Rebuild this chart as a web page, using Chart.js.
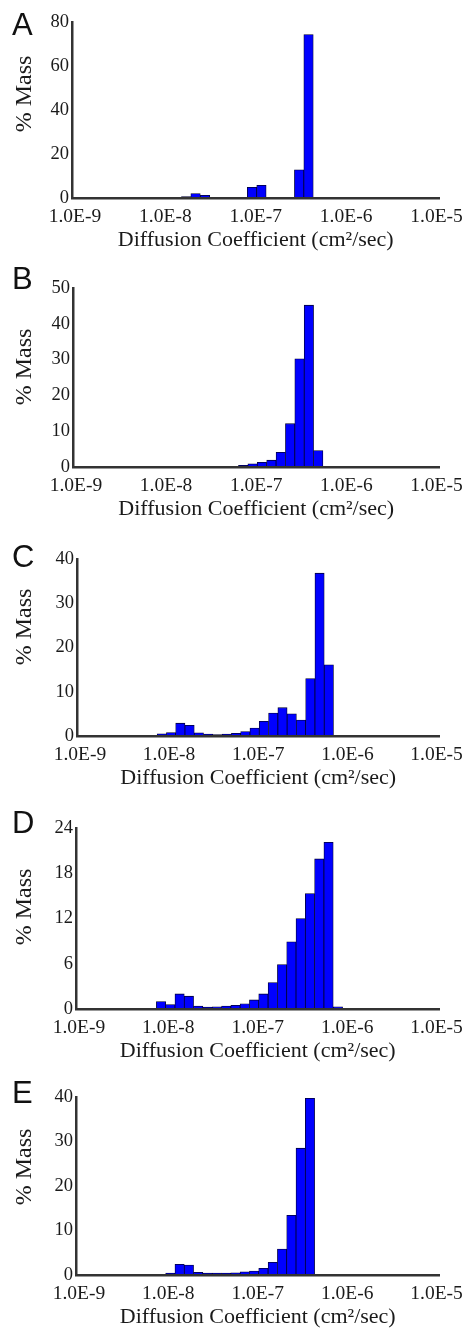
<!DOCTYPE html>
<html>
<head>
<meta charset="utf-8">
<script src="https://cdn.jsdelivr.net/npm/chart.js"></script>
<style>
  html, body { margin: 0; padding: 0; background: #fff; }
  #page { position: relative; width: 470px; height: 1335px; overflow: hidden; }
  #page canvas { position: absolute; left: 0; }
  .letter { position: absolute; left: 12px; font: 31px "Liberation Sans", Arial, sans-serif; line-height: 1; color: #111; }
</style>
</head>
<body>
<div id="page"></div>
<script>
// bin centres, log10 of diffusion coefficient (cm2/sec)
const binExp = [-8.082, -7.978, -7.874, -7.770, -7.666, -7.561, -7.457, -7.353, -7.249, -7.145,
                -7.041, -6.937, -6.832, -6.728, -6.624, -6.520, -6.416, -6.312, -6.208, -6.103];

// % mass in each bin, one list per panel
const massA = [0, 0, 0, 0.6, 2.0, 1.2, 0, 0, 0, 0, 4.9, 5.8, 0, 0, 0, 12.8, 74.3, 0, 0, 0];
const massB = [0, 0, 0, 0, 0, 0, 0.1, 0.15, 0.2, 0.5, 0.9, 1.3, 1.9, 4.1, 12.1, 30.2, 45.2, 4.6, 0, 0];
const massC = [0.5, 0.8, 2.9, 2.4, 0.7, 0.45, 0.3, 0.45, 0.6, 1.0, 1.8, 3.3, 5.2, 6.4, 5.0, 3.6, 13.0, 36.8, 16.1, 0];
const massD = [1.0, 0.6, 2.0, 1.7, 0.4, 0.25, 0.3, 0.4, 0.5, 0.7, 1.2, 2.0, 3.5, 5.9, 8.9, 12.0, 15.3, 19.9, 22.1, 0.3];
const massE = [0.1, 0.45, 2.4, 2.25, 0.6, 0.45, 0.45, 0.45, 0.5, 0.7, 0.9, 1.5, 2.85, 5.85, 13.4, 28.5, 39.7, 0, 0, 0];

const panelNames = ["A", "B", "C", "D", "E"];
const series = [massA, massB, massC, massD, massE];
const yMax = [80, 50, 40, 24, 40];
const yStep = [20, 10, 10, 6, 10];

const tickExp = [-9, -8, -7, -6, -5];
const tickLabels = ["1.0E-9", "1.0E-8", "1.0E-7", "1.0E-6", "1.0E-5"];
const xTitle = "Diffusion Coefficient (cm\u00B2/sec)";
const yTitle = "% Mass";

// where each panel sits on the page
const panels = [
  { top: 0,    plotH: 176, left: 72, right: 443, titleY: 94,  letterY: 24 },
  { top: 266,  plotH: 179, left: 73, right: 442, titleY: 101, letterY: 278 },
  { top: 537,  plotH: 177, left: 77, right: 446, titleY: 90,  letterY: 556 },
  { top: 806,  plotH: 181, left: 76, right: 448, titleY: 101, letterY: 822 },
  { top: 1075, plotH: 178, left: 76, right: 448, titleY: 92,  letterY: 1092 }
];

const ink = "#1a1a1a";
const serif = "Liberation Serif";

const yTitlePlugin = {
  id: "yTitle",
  afterDraw(chart, args, opts) {
    const ctx = chart.ctx;
    ctx.save();
    ctx.translate(25, opts.y);
    ctx.rotate(-Math.PI / 2);
    ctx.font = `24px "${serif}"`;
    ctx.fillStyle = ink;
    ctx.textAlign = "center";
    ctx.textBaseline = "middle";
    ctx.fillText(yTitle, 0, 0);
    ctx.restore();
  }
};

const page = document.getElementById("page");

panels.forEach((p, i) => {
  const cv = document.createElement("canvas");
  cv.width = 470;
  cv.height = 22 + p.plotH + 60;
  cv.style.top = p.top + "px";
  page.appendChild(cv);

  const letter = document.createElement("div");
  letter.className = "letter";
  letter.textContent = panelNames[i];
  letter.style.top = (p.letterY - 15) + "px";
  page.appendChild(letter);

  new Chart(cv, {
    type: "bar",
    data: {
      datasets: [{
        data: binExp.map((x, k) => ({ x: x, y: series[i][k] })),
        backgroundColor: "#0000ff",
        borderColor: "#000033",
        borderWidth: 0.8,
        barPercentage: 1,
        categoryPercentage: 1
      }]
    },
    options: {
      responsive: false,
      animation: false,
      devicePixelRatio: 1,
      layout: { padding: { top: 22, right: 470 - p.right, bottom: 5, left: 0 } },
      plugins: {
        legend: { display: false },
        tooltip: { enabled: false },
        yTitle: { y: p.titleY }
      },
      scales: {
        x: {
          type: "linear",
          min: -9.033,
          max: -4.967,
          offset: false,
          grid: { display: false, drawTicks: false },
          border: { color: "#333", width: 2.5, z: 1 },
          afterBuildTicks: (s) => { s.ticks = tickExp.map(v => ({ value: v })); },
          ticks: {
            padding: 7,
            color: ink,
            autoSkip: false,
            maxRotation: 0,
            font: { family: serif, size: 19.5 },
            callback: (v, k) => tickLabels[k]
          },
          title: {
            display: true,
            text: xTitle,
            color: ink,
            padding: 0,
            font: { family: serif, size: 22 }
          },
          afterFit: (s) => { s.height = 55; }
        },
        y: {
          min: 0,
          max: yMax[i],
          grid: { display: false, drawTicks: false },
          border: { color: "#333", width: 2.5, z: 1 },
          ticks: {
            stepSize: yStep[i],
            padding: 3,
            color: ink,
            font: { family: serif, size: 18.5 }
          },
          afterFit: (s) => { s.width = p.left; }
        }
      }
    },
    plugins: [yTitlePlugin]
  });
});
</script>
</body>
</html>
